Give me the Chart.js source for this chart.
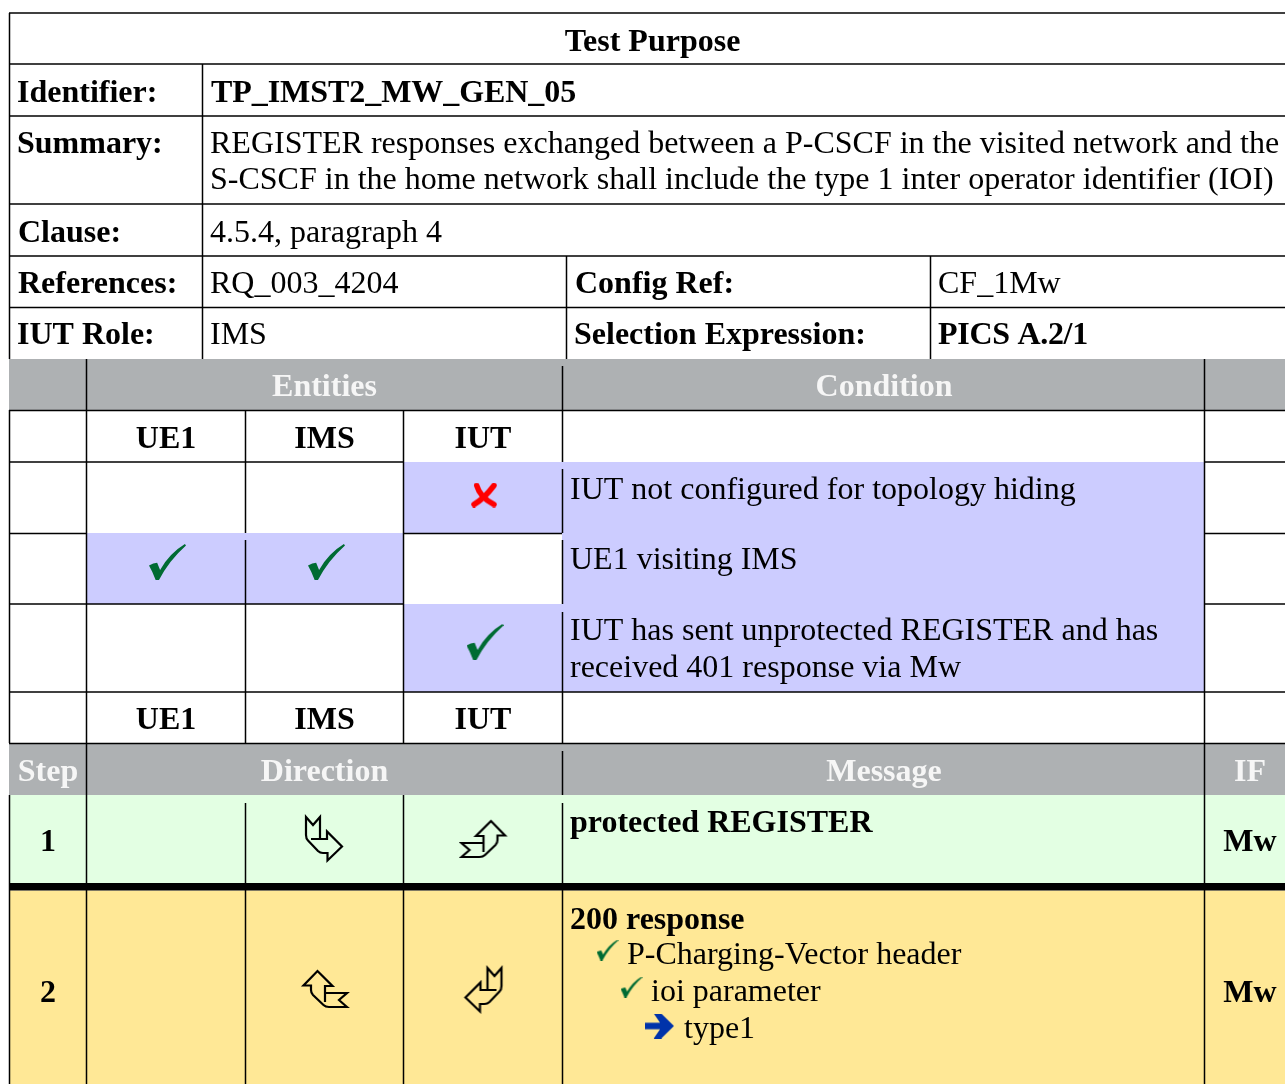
<!DOCTYPE html>
<html lang="en">
<head>
  <meta charset="UTF-8">
  <title>Test Purpose</title>
  <script src="https://cdn.jsdelivr.net/npm/chart.js"></script>
  <style>
    html, body { margin: 0; padding: 0; background: #fff; overflow: hidden; }
    canvas { display: block; }
  </style>
</head>
<body>
  <canvas id="table" width="1285" height="1084"></canvas>

  <script>
    // table content
    const titleText = "Test Purpose";
    const fieldLabels = ["Identifier:", "Summary:", "Clause:", "References:", "IUT Role:"];
    const identifierValue = "TP_IMST2_MW_GEN_05";
    const summaryLines = [
      "REGISTER responses exchanged between a P-CSCF in the visited network and the",
      "S-CSCF in the home network shall include the type 1 inter operator identifier (IOI)"
    ];
    const clauseValue = "4.5.4, paragraph 4";
    const referenceCells = ["RQ_003_4204", "Config Ref:", "CF_1Mw"];
    const roleCells = ["IMS", "Selection Expression:", "PICS A.2/1"];
    const entityHeaders = ["Entities", "Condition"];
    const entityNames = ["UE1", "IMS", "IUT"];
    const conditionLines = [
      "IUT not configured for topology hiding",
      "UE1 visiting IMS",
      "IUT has sent unprotected REGISTER and has",
      "received 401 response via Mw"
    ];
    const stepHeaders = ["Step", "Direction", "Message", "IF"];
    const stepNumbers = ["1", "2"];
    const stepInterface = "Mw";
    const messageLines = ["protected REGISTER", "200 response", "P-Charging-Vector header", "ioi parameter", "type1"];

    // table geometry, in the page units of the two axes
    const fills = [
      // x0, x1, y0, y1, colour
      [9, 1285, 359, 410, "#aeb1b3"],
      [403, 1204, 462, 533, "#ccccff"],
      [86, 403, 533, 604, "#ccccff"],
      [562, 1204, 533, 604, "#ccccff"],
      [403, 1204, 604, 692, "#ccccff"],
      [9, 1285, 743, 795, "#aeb1b3"],
      [9, 1285, 795, 883, "#e3ffe3"],
      [9, 1285, 883, 890.5, "#000000"],
      [9, 1285, 890.5, 1084, "#ffe896"]
    ];
    const hRules = [
      [13, 9, 1285], [64, 9, 1285], [116, 9, 1285], [204, 9, 1285], [256, 9, 1285], [307.5, 9, 1285],
      [410.5, 9, 1285], [462, 9, 403], [462, 1204, 1285],
      [533.5, 9, 86], [533.5, 403, 562], [533.5, 1204, 1285],
      [604, 9, 403], [604, 1204, 1285], [692, 9, 1285], [743.5, 9, 1285]
    ];
    const vRules = [
      [9.5, 13, 359], [9.5, 410, 743], [9.5, 795, 1084],
      [202.5, 64, 359], [566.5, 256, 359], [930.5, 256, 359],
      [86.5, 359, 1084],
      [245.5, 410, 533], [245.5, 540, 743], [245.5, 803, 1084],
      [403.5, 410, 743], [403.5, 795, 1084],
      [562.5, 366, 462], [562.5, 469, 533], [562.5, 540, 604], [562.5, 612, 743], [562.5, 751, 795], [562.5, 803, 1084],
      [1204.5, 359, 1084]
    ];
    const checkPoints = [{ x: 167.5, y: 562 }, { x: 326.5, y: 562 }, { x: 485, y: 642 }];
    const smallCheckPoints = [{ x: 607.5, y: 950 }, { x: 631.5, y: 987 }];
    const crossPoints = [{ x: 484, y: 495 }];
    const bulletPoints = [{ x: 659.5, y: 1026 }];
    const arrowPoints = [{ x: 324, y: 839 }, { x: 483.5, y: 839 }, { x: 325, y: 989 }, { x: 483.5, y: 990 }];

    const SERIF = '"Liberation Serif", "Times New Roman", serif';
    const BOLD = "bold 32px " + SERIF;
    const PLAIN = "32px " + SERIF;

    // text: string, x, baseline, font, colour, align, letter spacing
    const textRuns = [
      [titleText, 652.5, 50.5, BOLD, "#000", "center"],
      [fieldLabels[0], 17, 102, BOLD], [identifierValue, 211, 102, BOLD, "#000", "left", "-0.06px"],
      [fieldLabels[1], 17, 153, BOLD], [summaryLines[0], 210, 153, PLAIN], [summaryLines[1], 210, 189, PLAIN],
      [fieldLabels[2], 18, 242, BOLD], [clauseValue, 210, 242, PLAIN],
      [fieldLabels[3], 18, 293, BOLD], [referenceCells[0], 210, 293, PLAIN], [referenceCells[1], 575, 293, BOLD], [referenceCells[2], 938, 293, PLAIN],
      [fieldLabels[4], 17, 344, BOLD], [roleCells[0], 210, 344, PLAIN], [roleCells[1], 574, 344, BOLD], [roleCells[2], 938, 344, BOLD, "#000", "left", "-0.3px"],
      [entityHeaders[0], 324.5, 396, BOLD, "#f6f6f6", "center"], [entityHeaders[1], 884, 396, BOLD, "#f6f6f6", "center"],
      [entityNames[0], 166, 448, BOLD, "#000", "center"], [entityNames[1], 324.5, 448, BOLD, "#000", "center"], [entityNames[2], 483, 448, BOLD, "#000", "center"],
      [conditionLines[0], 570, 499, PLAIN], [conditionLines[1], 570, 569, PLAIN], [conditionLines[2], 570, 640, PLAIN], [conditionLines[3], 570, 677, PLAIN],
      [entityNames[0], 166, 729, BOLD, "#000", "center"], [entityNames[1], 324.5, 729, BOLD, "#000", "center"], [entityNames[2], 483, 729, BOLD, "#000", "center"],
      [stepHeaders[0], 48, 781, BOLD, "#f6f6f6", "center"], [stepHeaders[1], 324.5, 781, BOLD, "#f6f6f6", "center"],
      [stepHeaders[2], 884, 781, BOLD, "#f6f6f6", "center"], [stepHeaders[3], 1250, 781, BOLD, "#f6f6f6", "center"],
      [stepNumbers[0], 48, 851, BOLD, "#000", "center"], [messageLines[0], 570, 832, BOLD], [stepInterface, 1250, 851, BOLD, "#000", "center"],
      [stepNumbers[1], 48, 1002, BOLD, "#000", "center"], [messageLines[1], 570, 928.5, BOLD],
      [messageLines[2], 627, 964, PLAIN], [messageLines[3], 651, 1001, PLAIN], [messageLines[4], 684, 1038, PLAIN],
      [stepInterface, 1250, 1002, BOLD, "#000", "center"]
    ];

    function iconCanvas(w, h, paint) {
      const c = document.createElement("canvas");
      c.width = w;
      c.height = h;
      paint(c.getContext("2d"), w, h);
      return c;
    }

    function paintCheck(g, w, h) {
      g.fillStyle = "#006b33";
      g.scale(w, h);
      g.beginPath();
      g.moveTo(0, 0.6);
      g.quadraticCurveTo(0.12, 0.52, 0.22, 0.52);
      g.lineTo(0.3, 0.72);
      g.quadraticCurveTo(0.55, 0.26, 0.97, 0);
      g.lineTo(1, 0.04);
      g.quadraticCurveTo(0.54, 0.46, 0.27, 1);
      g.lineTo(0.18, 1);
      g.quadraticCurveTo(0.1, 0.78, 0, 0.6);
      g.fill();
    }

    function paintCross(g, w, h) {
      g.strokeStyle = "#ff0000";
      g.lineCap = "round";
      g.lineWidth = 5.5;
      g.beginPath();
      g.moveTo(w * 0.22, 3);
      g.quadraticCurveTo(w * 0.35, h * 0.6, w - 3, h - 3);
      g.moveTo(3, h - 3);
      g.quadraticCurveTo(w * 0.5, h * 0.65, w - 3, 3);
      g.stroke();
    }

    function paintBullet(g, w, h) {
      g.fillStyle = "#0033aa";
      g.scale(w, h);
      g.beginPath();
      g.moveTo(0, 0.37);
      g.lineTo(0.52, 0.37);
      g.lineTo(0.3, 0);
      g.lineTo(0.56, 0);
      g.lineTo(1, 0.5);
      g.lineTo(0.56, 1);
      g.lineTo(0.3, 1);
      g.lineTo(0.52, 0.63);
      g.lineTo(0, 0.63);
      g.closePath();
      g.fill();
    }

    // the direction arrow, drawn tail up and head right; m flips it for the other cells
    function paintArrow(m) {
      return function (g, w, h) {
        g.translate(w / 2, h / 2);
        g.transform(m[0], m[1], m[2], m[3], 0, 0);
        g.strokeStyle = "#000";
        g.lineWidth = 2.2;
        g.lineJoin = "miter";
        g.beginPath();
        g.moveTo(-18, -22);
        g.lineTo(-11, -14);
        g.lineTo(-4, -22);
        g.lineTo(-4, 0);
        g.lineTo(3, 0);
        g.lineTo(3, -7.5);
        g.lineTo(18, 7.5);
        g.lineTo(3.5, 21.5);
        g.lineTo(3.5, 14);
        g.lineTo(-1, 14);
        g.quadraticCurveTo(-4, 14, -6, 12);
        g.lineTo(-16, 1.5);
        g.quadraticCurveTo(-18, -0.5, -18, -4);
        g.closePath();
        g.moveTo(-13, 0);
        g.lineTo(3, 0);
        g.stroke();
      };
    }

    const arrowStyles = [
      iconCanvas(50, 50, paintArrow([1, 0, 0, 1])),
      iconCanvas(50, 50, paintArrow([0, -1, 1, 0])),
      iconCanvas(50, 50, paintArrow([0, -1, -1, 0])),
      iconCanvas(50, 50, paintArrow([-1, 0, 0, 1]))
    ];

    const tableText = {
      id: "tableText",
      afterDatasetsDraw(chart) {
        const ctx = chart.ctx;
        const xs = chart.scales.x;
        const ys = chart.scales.y;
        ctx.save();
        textRuns.forEach(run => {
          ctx.font = run[3];
          ctx.fillStyle = run[4] || "#000";
          ctx.textAlign = run[5] || "left";
          ctx.letterSpacing = run[6] || "0px";
          ctx.textBaseline = "alphabetic";
          ctx.fillText(run[0], xs.getPixelForValue(run[1]), ys.getPixelForValue(run[2]));
        });
        ctx.restore();
      }
    };

    const datasets = [];
    fills.forEach(f => {
      datasets.push({
        data: [{ x: f[0], y: f[2] }, { x: f[1], y: f[2] }],
        fill: { value: f[3] },
        backgroundColor: f[4],
        borderWidth: 0,
        pointRadius: 0,
        order: 3
      });
    });
    hRules.forEach(r => {
      datasets.push({
        data: [{ x: r[1], y: r[0] }, { x: r[2], y: r[0] }],
        borderColor: "#000",
        borderWidth: 1.5,
        pointRadius: 0,
        order: 2
      });
    });
    vRules.forEach(r => {
      datasets.push({
        data: [{ x: r[0], y: r[1] }, { x: r[0], y: r[2] }],
        borderColor: "#000",
        borderWidth: 1.5,
        pointRadius: 0,
        order: 2
      });
    });
    [
      [checkPoints, iconCanvas(37, 36, paintCheck)],
      [smallCheckPoints, iconCanvas(22, 21, paintCheck)],
      [crossPoints, iconCanvas(26, 25, paintCross)],
      [bulletPoints, iconCanvas(29, 25, paintBullet)],
      [arrowPoints, arrowStyles]
    ].forEach(icon => {
      datasets.push({
        data: icon[0],
        showLine: false,
        pointStyle: icon[1],
        pointRadius: 5,
        order: 1
      });
    });

    new Chart(document.getElementById("table"), {
      type: "line",
      data: { datasets },
      plugins: [tableText],
      options: {
        responsive: false,
        animation: false,
        layout: { padding: 0, autoPadding: false },
        plugins: { legend: { display: false }, tooltip: { enabled: false } },
        scales: {
          x: { type: "linear", display: false, min: 0, max: 1285 },
          y: { type: "linear", display: false, min: 0, max: 1084, reverse: true }
        }
      }
    });
  </script>
</body>
</html>
